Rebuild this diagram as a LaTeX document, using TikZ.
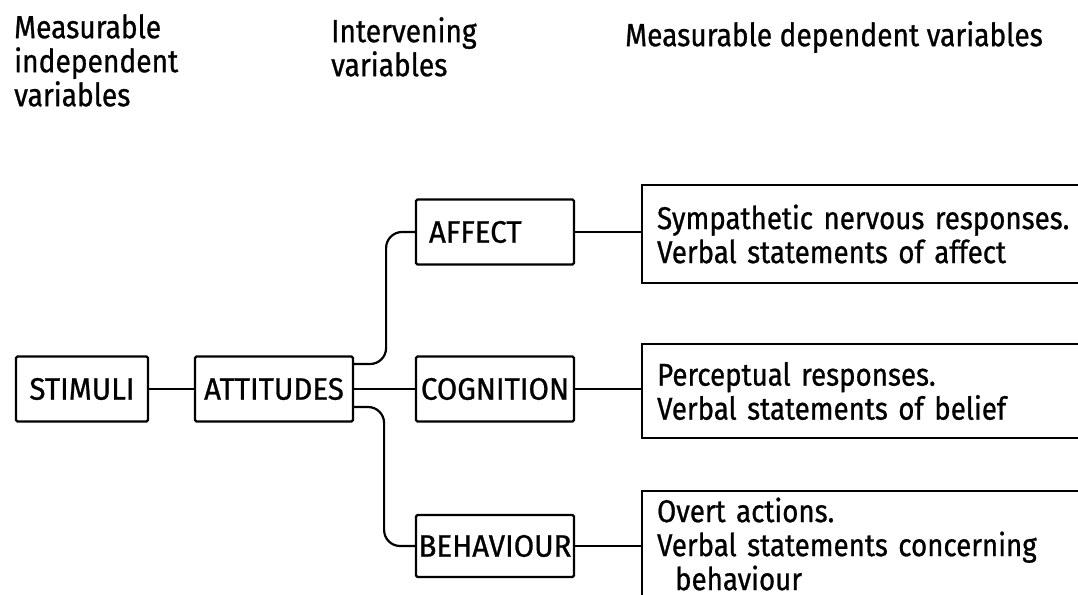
\documentclass[tikz,border=0pt]{standalone}
\usepackage{fontspec}
\setmainfont{Fira Sans}[FakeStretch=0.88, FakeBold=0.8]
\newfontfamily\boxfont{Fira Sans}[FakeStretch=0.95, FakeBold=0.8]
\begin{document}
\begin{tikzpicture}[x=1pt,y=-1pt,
  every node/.style={inner sep=0pt},
  box/.style={draw, line width=2.2pt, rounded corners=1.5pt, minimum width=158pt, minimum height=65pt, font=\boxfont\fontsize{31}{34}\selectfont},
  resp/.style={draw, line width=2.2pt, anchor=west, text width=470pt, inner xsep=15pt, align=left, font=\fontsize{31.5}{34}\selectfont},
  head/.style={anchor=north west, align=left, font=\fontsize{32}{34}\selectfont},
  conn/.style={line width=2.2pt}]
\useasboundingbox (0,0) rectangle (1078,594);
\clip (0,0) rectangle (1078,594);
\node[head] (h1) at (14,14) {Measurable\\independent\\variables};
\node[head] (h2) at (331,17) {Intervening\\variables};
\node[head] (h3) at (625,21) {Measurable dependent variables};

\node[box, minimum width=132pt] (sti) at (82,389) {STIMULI};
\node[box] (att) at (274,389) {ATTITUDES};
\node[box, text width=132pt, align=left, inner xsep=13pt] (aff) at (495,232) {AFFECT};
\node[box] (cog) at (495,389) {COGNITION};
\node[box, minimum height=62pt] (beh) at (495,546) {BEHAVIOUR};

\node[resp, minimum height=98pt] (sym) at (641,234) {Sympathetic nervous responses.\\Verbal statements of affect};
\node[resp, minimum height=94pt] (per) at (641,391) {Perceptual responses.\\Verbal statements of belief};
\node[resp, minimum height=106pt] (ove) at (641,544) {Overt actions.\\Verbal statements concerning\\\hspace*{18pt}behaviour};

\draw[conn] (sti) -- (att);
\draw[conn] (att) -- (cog);
\draw[conn, rounded corners=16pt] ([yshift=25pt]att.east) -- ++(32,0) |- (aff.west);
\draw[conn, rounded corners=16pt] ([yshift=-18pt]att.east) -- ++(30,0) |- (beh.west);
\draw[conn] (aff.east) -- (aff.east -| sym.west);
\draw[conn] (cog.east) -- (cog.east -| per.west);
\draw[conn] (beh.east) -- (beh.east -| ove.west);
\end{tikzpicture}
\end{document}
